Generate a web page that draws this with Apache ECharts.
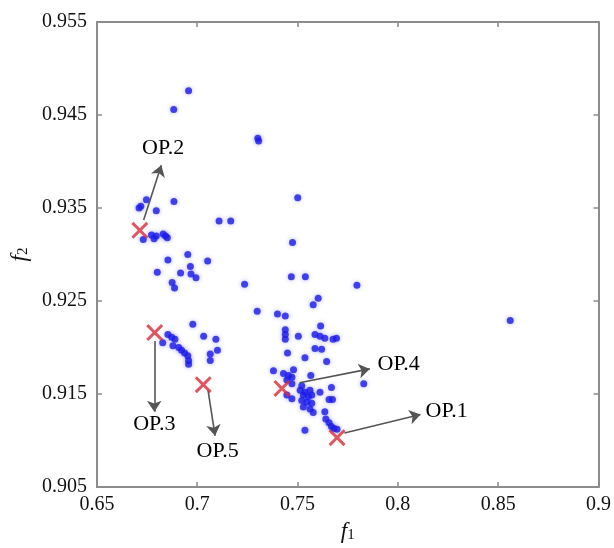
<!DOCTYPE html>
<html>
<head>
<meta charset="utf-8">
<script src="https://cdn.jsdelivr.net/npm/echarts@6/dist/echarts.min.js"></script>
<style>
html,body{margin:0;padding:0;background:#fff;}
#chart{width:614px;height:548px;}
</style>
</head>
<body>
<div id="chart"></div>
<script>
// Pareto front solutions (f1, f2)
var paretoF1 = [
  0.6957, 0.6883, 0.7302, 0.7306,
  0.6710, 0.6747, 0.6719, 0.6796, 0.6884, 0.7501, 0.7109, 0.7167,
  0.6731, 0.6772, 0.6785, 0.6796, 0.6830, 0.6842, 0.6851,
  0.6854, 0.6953, 0.7052, 0.6801, 0.6917, 0.6966, 0.6969, 0.6994, 0.6875, 0.6887, 0.7236, 0.7299,
  0.6978, 0.6854, 0.6873, 0.6889, 0.6828, 0.6879, 0.6908, 0.6922, 0.6937, 0.6953, 0.6957, 0.6957,
  0.7032, 0.7093, 0.7101, 0.7065, 0.7065,
  0.8560, 0.7796, 0.7475, 0.7469, 0.7539, 0.7603, 0.7578,
  0.7439, 0.7400, 0.7439, 0.7439, 0.7439, 0.7504, 0.7615, 0.7587, 0.7612, 0.7636, 0.7677, 0.7694,
  0.7587, 0.7620, 0.7450, 0.7537, 0.7645,
  0.7430, 0.7455, 0.7472, 0.7447, 0.7472, 0.7480, 0.7566, 0.7830, 0.7669,
  0.7521, 0.7513, 0.7537, 0.7562, 0.7529, 0.7554, 0.7571, 0.7521, 0.7546, 0.7571, 0.7529, 0.7562, 0.7578, 0.7612, 0.7472, 0.7447,
  0.7657, 0.7674, 0.7636, 0.7641, 0.7657, 0.7669, 0.7681, 0.7697, 0.7537, 0.7380
];
var paretoF2 = [
  0.9476, 0.9456, 0.9425, 0.9422,
  0.9350, 0.9359, 0.9352, 0.9347, 0.9357, 0.9361, 0.9336, 0.9336,
  0.9316, 0.9321, 0.9317, 0.9320, 0.9322, 0.9320, 0.9318,
  0.9294, 0.9300, 0.9293, 0.9281, 0.9280, 0.9287, 0.9279, 0.9275, 0.9270, 0.9264, 0.9268, 0.9239,
  0.9225, 0.9214, 0.9211, 0.9209, 0.9205, 0.9202, 0.9200, 0.9197, 0.9194, 0.9191, 0.9186, 0.9182,
  0.9212, 0.9209, 0.9197, 0.9193, 0.9186,
  0.9229, 0.9267, 0.9313, 0.9276, 0.9276, 0.9253, 0.9246,
  0.9234, 0.9236, 0.9219, 0.9214, 0.9209, 0.9212, 0.9223, 0.9214, 0.9212, 0.9210, 0.9209, 0.9210,
  0.9199, 0.9198, 0.9194, 0.9189, 0.9185,
  0.9172, 0.9170, 0.9168, 0.9165, 0.9161, 0.9176, 0.9170, 0.9161, 0.9157,
  0.9159, 0.9154, 0.9152, 0.9154, 0.9149, 0.9147, 0.9149, 0.9143, 0.9141, 0.9140, 0.9136, 0.9134, 0.9130, 0.9152, 0.9145, 0.9149,
  0.9144, 0.9144, 0.9131, 0.9123, 0.9119, 0.9115, 0.9113, 0.9112, 0.9111, 0.9175
];
// Selected operating points
var opNames = ['OP.1', 'OP.2', 'OP.3', 'OP.4', 'OP.5'];
var opF1 = [0.7697, 0.6714, 0.6788, 0.7422, 0.7030];
var opF2 = [0.9103, 0.9326, 0.9216, 0.9156, 0.9160];
// Annotation arrows (data coords): start and end, and label anchor
var arrowFromF1 = [0.7734, 0.6733, 0.6786, 0.7510, 0.7054];
var arrowFromF2 = [0.9108, 0.9337, 0.9207, 0.9162, 0.9154];
var arrowToF1   = [0.8113, 0.6821, 0.6786, 0.7860, 0.7089];
var arrowToF2   = [0.9128, 0.9396, 0.9131, 0.9177, 0.9105];
var labelF1     = [0.8138, 0.6830, 0.6786, 0.7899, 0.7102];
var labelF2     = [0.9131, 0.9414, 0.9117, 0.9182, 0.9089];
var labelAlign  = ['left', 'center', 'center', 'left', 'center'];
// Tick values
var xTicks = [0.65, 0.7, 0.75, 0.8, 0.85, 0.9];
var yTicks = [0.905, 0.915, 0.925, 0.935, 0.945, 0.955];

var serif = 'Liberation Serif';
var axisColor = '#8c8c8c';

var chart = echarts.init(document.getElementById('chart'));

var blueData = paretoF1.map(function (v, i) { return [v, paretoF2[i]]; });
var opData = opF1.map(function (v, i) { return [v, opF2[i]]; });
var arrowData = arrowFromF1.map(function (v, i) {
  return { coords: [[v, arrowFromF2[i]], [arrowToF1[i], arrowToF2[i]]] };
});

function valAxis(pos, ticks, min, max, showLabel, extra) {
  var o = {
    type: 'value', position: pos, min: min, max: max,
    splitLine: { show: false },
    axisLine: { show: true, onZero: false, lineStyle: { color: axisColor, width: 2 } },
    axisTick: { show: true, inside: true, length: 5, customValues: ticks,
      lineStyle: { color: axisColor, width: 1.5 } },
    axisLabel: { show: showLabel, customValues: ticks, fontFamily: serif, fontSize: 20,
      color: '#111', margin: 8 }
  };
  for (var k in extra) o[k] = extra[k];
  return o;
}

var graphicLabels = [];

var option = {
  backgroundColor: '#fff',
  animation: false,
  textStyle: { fontFamily: serif },
  grid: { left: 95, top: 22, right: 13, bottom: 55, containLabel: false },
  xAxis: [
    valAxis('bottom', xTicks, 0.65, 0.9, true, {
      name: '{i|f}{s|1}', nameLocation: 'middle', nameGap: 33,
      nameTextStyle: { rich: {
        i: { fontFamily: serif, fontStyle: 'italic', fontSize: 23, color: '#111' },
        s: { fontFamily: serif, fontSize: 15, color: '#111', verticalAlign: 'bottom', padding: [8, 0, 0, 0] }
      } }
    }),
    valAxis('top', xTicks, 0.65, 0.9, false, {})
  ],
  yAxis: [
    valAxis('left', yTicks, 0.905, 0.955, true, {
      axisLabel: { show: true, customValues: yTicks, fontFamily: serif, fontSize: 20, color: '#111', margin: 10,
        formatter: function (v) { return v.toFixed(3); } },
      name: '{i|f}{s|2}', nameLocation: 'middle', nameGap: 64, nameRotate: 90,
      nameTextStyle: { rich: {
        i: { fontFamily: serif, fontStyle: 'italic', fontSize: 23, color: '#111' },
        s: { fontFamily: serif, fontSize: 15, color: '#111', verticalAlign: 'bottom', padding: [8, 0, 0, 0] }
      } }
    }),
    valAxis('right', yTicks, 0.905, 0.955, false, {})
  ],
  series: [
    {
      type: 'scatter', name: 'pareto', data: blueData,
      symbol: 'circle', symbolSize: 7,
      itemStyle: { color: '#1c1ce6', shadowBlur: 4, shadowColor: 'rgba(40,40,255,0.45)' },
      z: 2
    },
    {
      type: 'lines', coordinateSystem: 'cartesian2d', data: arrowData,
      symbol: ['none', 'arrow'], symbolSize: [0, 11],
      lineStyle: { color: '#555', width: 1.6, opacity: 1, curveness: 0 },
      z: 3
    },
    {
      type: 'scatter', name: 'op', data: opData,
      symbol: 'path://M0,2.5 L2.5,0 L10,7.5 L17.5,0 L20,2.5 L12.5,10 L20,17.5 L17.5,20 L10,12.5 L2.5,20 L0,17.5 L7.5,10 Z',
      symbolSize: 17,
      itemStyle: { color: '#d92b3a' },
      z: 4
    }
  ]
};
chart.setOption(option);

// text annotations placed at data coordinates through the grid's scale
opNames.forEach(function (n, i) {
  var p = chart.convertToPixel({ gridIndex: 0 }, [labelF1[i], labelF2[i]]);
  graphicLabels.push({
    type: 'text', x: p[0], y: p[1], z: 10,
    style: { text: n, font: '22px "Liberation Serif"', fill: '#000',
      align: labelAlign[i], verticalAlign: 'middle' }
  });
});
chart.setOption({ graphic: graphicLabels });
</script>
</body>
</html>
